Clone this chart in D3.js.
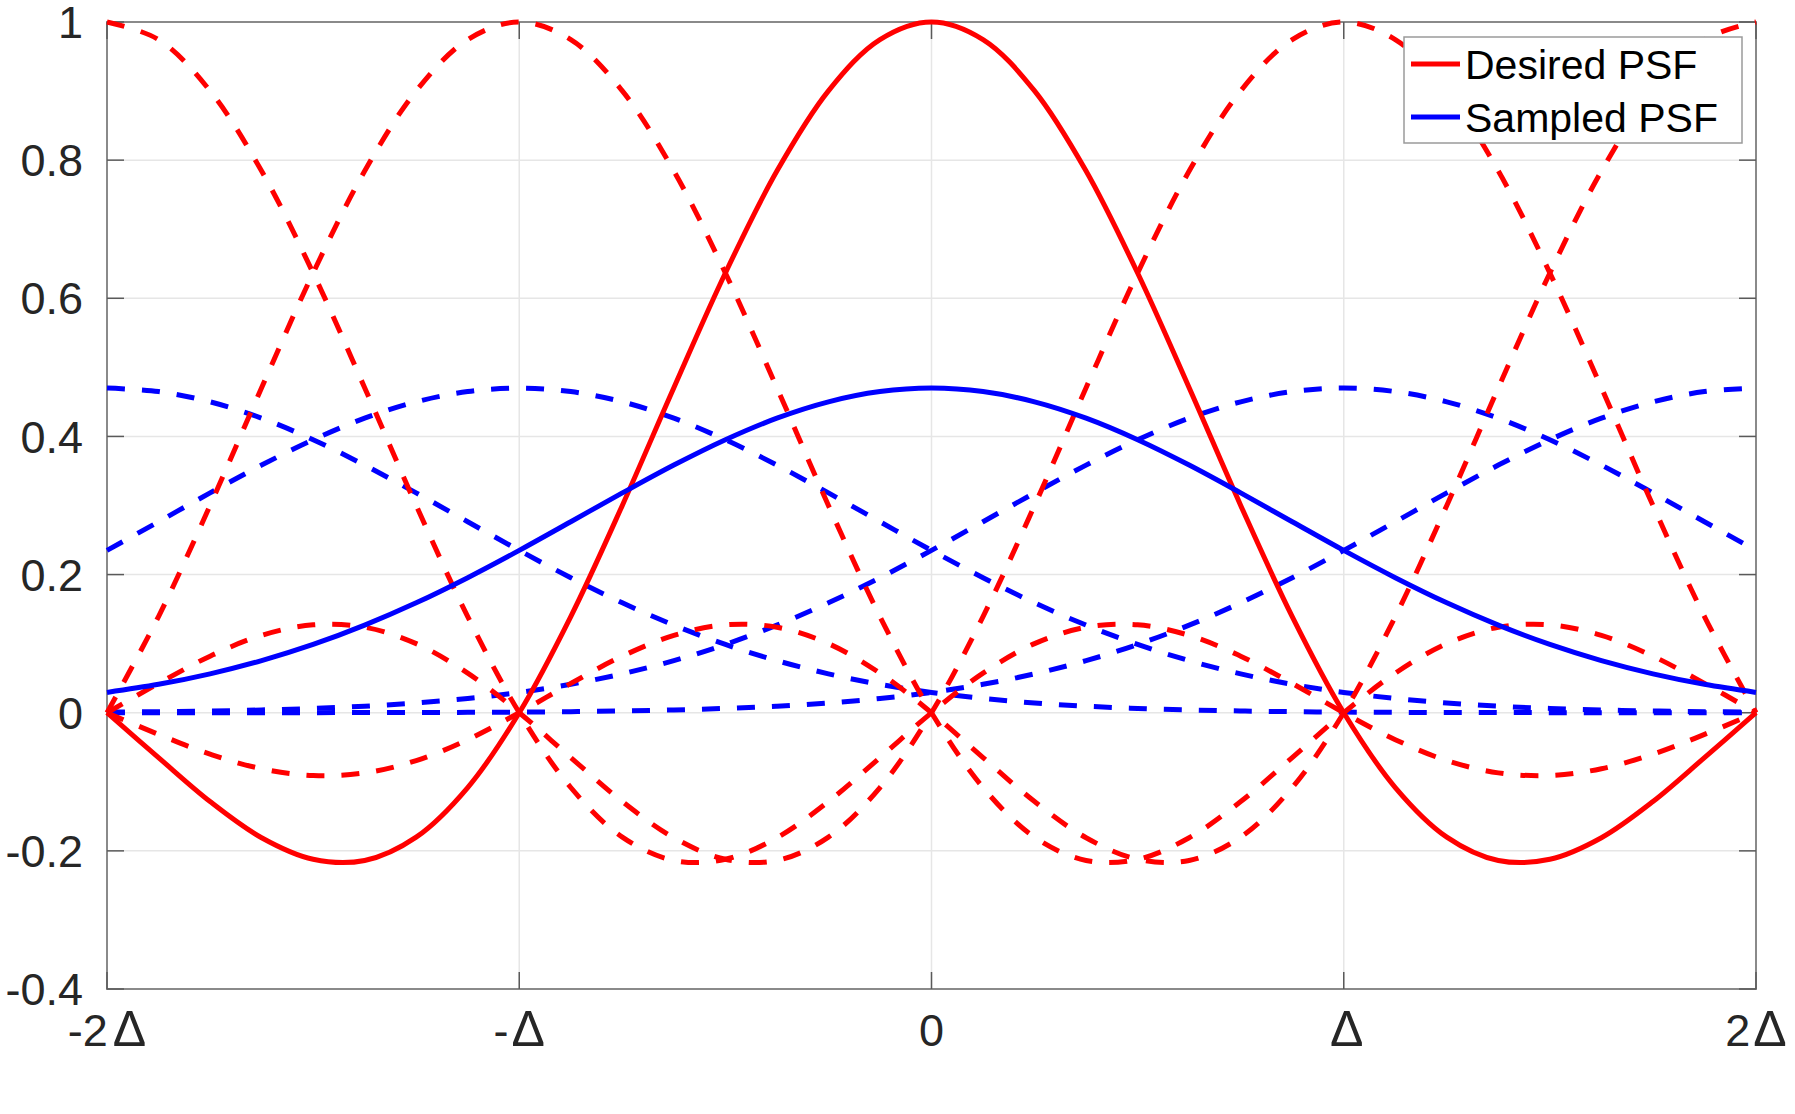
<!DOCTYPE html>
<meta charset="utf-8">
<style>
body { margin: 0; background: #fff; }
svg { font-family: "Liberation Sans", Arial, Helvetica, sans-serif; }
.grid line { stroke: #e6e6e6; stroke-width: 1.5px; }
.frame { fill: none; stroke: #8a8a8a; stroke-width: 2px; }
.tick-mark { stroke: #5a5a5a; stroke-width: 1.5px; }
.tick-label { fill: #262626; font-size: 45px; }
.delta { font-size: 50px; }
.legend-box { fill: #fff; stroke: #9a9a9a; stroke-width: 1.5px; }
.legend-text { fill: #000; font-size: 41px; }
</style>
<svg width="1795" height="1114"></svg>
<script src="https://d3js.org/d3.v7.min.js"></script>
<script>
// axis ticks and labels (number part, and whether a delta follows)
var xTicks = [-2, -1, 0, 1, 2];
var xTickLabels = ["-2", "-", "0", "", "2"];
var xTickDelta = [true, true, false, true, true];
var yTicks = [-0.4, -0.2, 0, 0.2, 0.4, 0.6, 0.8, 1];
var yTickLabels = ["-0.4", "-0.2", "0", "0.2", "0.4", "0.6", "0.8", "1"];

// sample positions (in units of delta) where copies of the PSF sit
var sampleOffsets = [-2, -1, 0, 1, 2];

// profile positions (units of delta) for the PSF shapes
var profileX = [
  -4, -3.875, -3.75, -3.625, -3.5, -3.375, -3.25, -3.125,
  -3, -2.875, -2.75, -2.625, -2.5, -2.375, -2.25, -2.125,
  -2, -1.875, -1.75, -1.625, -1.5, -1.375, -1.25, -1.125,
  -1, -0.875, -0.75, -0.625, -0.5, -0.375, -0.25, -0.125,
  0, 0.125, 0.25, 0.375, 0.5, 0.625, 0.75, 0.875,
  1, 1.125, 1.25, 1.375, 1.5, 1.625, 1.75, 1.875,
  2, 2.125, 2.25, 2.375, 2.5, 2.625, 2.75, 2.875,
  3, 3.125, 3.25, 3.375, 3.5, 3.625, 3.75, 3.875, 4
];

// desired PSF (red)
var desiredPSF = [
  0, -0.0314, -0.0600, -0.0811, -0.0909, -0.0871, -0.0693, -0.0390,
  0, 0.0424, 0.0819, 0.1120, 0.1273, 0.1238, 0.1000, 0.0573,
  0, -0.0650, -0.1286, -0.1810, -0.2122, -0.2139, -0.1801, -0.1083,
  0, 0.1392, 0.3001, 0.4705, 0.6366, 0.7842, 0.9003, 0.9745,
  1, 0.9745, 0.9003, 0.7842, 0.6366, 0.4705, 0.3001, 0.1392,
  0, -0.1083, -0.1801, -0.2139, -0.2122, -0.1810, -0.1286, -0.0650,
  0, 0.0573, 0.1000, 0.1238, 0.1273, 0.1120, 0.0819, 0.0424,
  0, -0.0390, -0.0693, -0.0871, -0.0909, -0.0811, -0.0600, -0.0314, 0
];

// sampled PSF (blue)
var sampledPSF = [
  0, 0, 0, 0, 0.0001, 0.0002, 0.0003, 0.0005,
  0.0009, 0.0015, 0.0025, 0.0040, 0.0062, 0.0094, 0.0141, 0.0206,
  0.0294, 0.0411, 0.0563, 0.0754, 0.0988, 0.1268, 0.1591, 0.1955,
  0.235, 0.2765, 0.3182, 0.3585, 0.3952, 0.4264, 0.4501, 0.4649,
  0.470, 0.4649, 0.4501, 0.4264, 0.3952, 0.3585, 0.3182, 0.2765,
  0.235, 0.1955, 0.1591, 0.1268, 0.0988, 0.0754, 0.0563, 0.0411,
  0.0294, 0.0206, 0.0141, 0.0094, 0.0062, 0.0040, 0.0025, 0.0015,
  0.0009, 0.0005, 0.0003, 0.0002, 0.0001, 0, 0, 0, 0
];

var legendItems = [
  { label: "Desired PSF", color: "#ff0000" },
  { label: "Sampled PSF", color: "#0000ff" }
];

var svg = d3.select("svg"),
    width = +svg.attr("width"),
    height = +svg.attr("height"),
    margin = { top: 22, right: 39, bottom: 125, left: 107 };

var x = d3.scaleLinear().domain([-2, 2]).range([margin.left, width - margin.right]);
var y = d3.scaleLinear().domain([-0.4, 1]).range([height - margin.bottom, margin.top]);

// grid lines
var grid = svg.append("g").attr("class", "grid");
grid.selectAll(".gx").data(xTicks).enter().append("line")
    .attr("x1", d => x(d)).attr("x2", d => x(d))
    .attr("y1", y(-0.4)).attr("y2", y(1));
grid.selectAll(".gy").data(yTicks).enter().append("line")
    .attr("y1", d => y(d)).attr("y2", d => y(d))
    .attr("x1", x(-2)).attr("x2", x(2));

// box around the plot
svg.append("rect").attr("class", "frame")
    .attr("x", x(-2)).attr("y", y(1))
    .attr("width", x(2) - x(-2)).attr("height", y(-0.4) - y(1));

// inward ticks on all four sides
var tickLen = 17;
var ticks = svg.append("g");
xTicks.forEach(function(t) {
  ticks.append("line").attr("class", "tick-mark")
      .attr("x1", x(t)).attr("x2", x(t)).attr("y1", y(-0.4)).attr("y2", y(-0.4) - tickLen);
  ticks.append("line").attr("class", "tick-mark")
      .attr("x1", x(t)).attr("x2", x(t)).attr("y1", y(1)).attr("y2", y(1) + tickLen);
});
yTicks.forEach(function(t) {
  ticks.append("line").attr("class", "tick-mark")
      .attr("y1", y(t)).attr("y2", y(t)).attr("x1", x(-2)).attr("x2", x(-2) + tickLen);
  ticks.append("line").attr("class", "tick-mark")
      .attr("y1", y(t)).attr("y2", y(t)).attr("x1", x(2)).attr("x2", x(2) - tickLen);
});

// tick labels
var xl = svg.append("g").selectAll("text").data(xTicks).enter().append("text")
    .attr("class", "tick-label")
    .attr("x", d => x(d))
    .attr("y", y(-0.4) + 57)
    .attr("text-anchor", "middle");
xl.append("tspan").text((d, i) => xTickLabels[i]);
xl.filter((d, i) => xTickDelta[i]).append("tspan")
    .attr("class", "delta")
    .attr("dx", (d, i) => xTickLabels[xTicks.indexOf(d)].length > 1 ? 5 : 3)
    .text("\u0394");

svg.append("g").selectAll("text").data(yTicks).enter().append("text")
    .attr("class", "tick-label")
    .attr("x", x(-2) - 24)
    .attr("y", d => y(d))
    .attr("dy", "0.36em")
    .attr("text-anchor", "end")
    .text((d, i) => yTickLabels[i]);

// build one copy of a profile centred on a sample position
function shifted(values, offset) {
  return profileX.map((p, i) => ({ x: p + offset, y: values[i] }))
      .filter(d => d.x >= -2 && d.x <= 2);
}

var line = d3.line()
    .x(d => x(d.x))
    .y(d => y(d.y))
    .curve(d3.curveCatmullRom.alpha(0.5));

var curves = svg.append("g").attr("fill", "none").attr("stroke-width", 5);

// dashed copies at neighbouring samples
sampleOffsets.filter(k => k !== 0).forEach(function(k) {
  curves.append("path")
      .attr("d", line(shifted(sampledPSF, k)))
      .attr("stroke", "#0000ff")
      .attr("stroke-dasharray", "18,17");
});
sampleOffsets.filter(k => k !== 0).forEach(function(k) {
  curves.append("path")
      .attr("d", line(shifted(desiredPSF, k)))
      .attr("stroke", "#ff0000")
      .attr("stroke-dasharray", "18,17");
});

// solid centre curves
curves.append("path").attr("d", line(shifted(desiredPSF, 0))).attr("stroke", "#ff0000");
curves.append("path").attr("d", line(shifted(sampledPSF, 0))).attr("stroke", "#0000ff");

// legend
var legend = svg.append("g")
    .attr("transform", "translate(" + (x(2) - 352) + "," + (y(1) + 15) + ")");
legend.append("rect").attr("class", "legend-box")
    .attr("width", 338).attr("height", 106);
var item = legend.selectAll(".item").data(legendItems).enter().append("g")
    .attr("transform", (d, i) => "translate(0," + (27 + i * 53) + ")");
item.append("line")
    .attr("x1", 7).attr("x2", 56)
    .attr("stroke", d => d.color).attr("stroke-width", 5);
item.append("text").attr("class", "legend-text")
    .attr("x", 61).attr("y", 15)
    .text(d => d.label);
</script>
